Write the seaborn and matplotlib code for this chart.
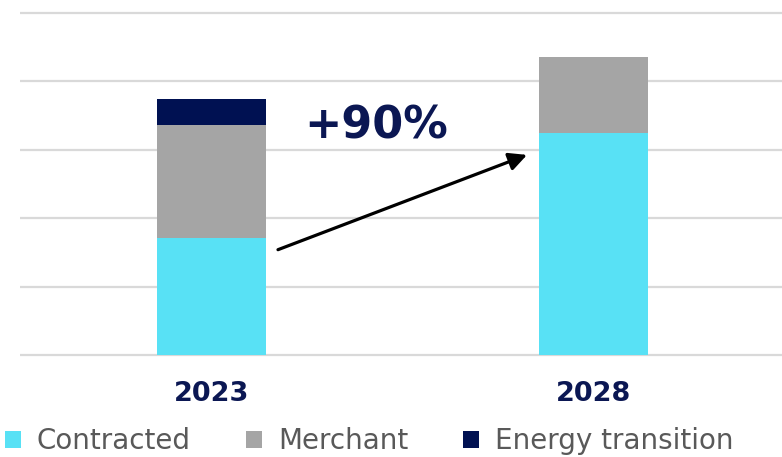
import matplotlib
matplotlib.use("Agg")
import matplotlib.pyplot as plt
from matplotlib.patches import Patch
import numpy as np
import pandas as pd
import seaborn as sns

# Capacity by category (stacked), per year
years = ["2023", "2028"]
contracted = [1.71, 3.25]
merchant = [1.65, 1.11]
energy_transition = [0.38, 0.0]
series_names = ["Contracted", "Merchant", "Energy transition"]
series_colors = ["#58E1F5", "#A5A5A5", "#001152"]

navy = "#0B1753"
grid_gray = "#D9D9D9"
legend_gray = "#595959"

sns.set_theme(style="white")
plt.rcParams["font.family"] = ["DejaVu Sans"]

df = pd.DataFrame({
    "year": years,
    "contracted": contracted,
    "merchant": merchant,
    "energy": energy_transition,
})
df["lvl1"] = df["contracted"]
df["lvl2"] = df["contracted"] + df["merchant"]
df["lvl3"] = df["lvl2"] + df["energy"]

fig = plt.figure(figsize=(7.82, 4.57), dpi=100)
fig.patch.set_facecolor("white")
ax = fig.add_axes([0.0256, 0.2158, 0.9744, 0.7663])

# Stack by overdrawing cumulative totals, top layer first
bw = 0.285
for col, color in zip(["lvl3", "lvl2", "lvl1"], series_colors[::-1]):
    sns.barplot(data=df, x="year", y=col, color=color, width=bw,
                saturation=1, ax=ax, edgecolor="none", linewidth=0)

ax.set_xlim(-0.5013, 1.4935)
ax.set_ylim(-0.05, 5.07)
ax.set_yticks(np.arange(0, 6, 1))
ax.set_yticklabels([])
ax.yaxis.grid(True, color=grid_gray, linewidth=1.6)
ax.set_axisbelow(True)
for s in ax.spines.values():
    s.set_visible(False)
ax.set_xlabel("")
ax.set_ylabel("")
ax.tick_params(axis="x", length=0, pad=16)
ax.tick_params(axis="y", length=0)
for lbl in ax.get_xticklabels():
    lbl.set_fontsize(19.5)
    lbl.set_fontweight("bold")
    lbl.set_color(navy)

# Growth arrow between the contracted segments
ax.annotate("", xy=(1 - 0.174, contracted[1] * 0.9),
            xytext=(0.174, contracted[0] * 0.9),
            arrowprops=dict(arrowstyle="-|>", color="black", lw=2.3,
                            mutation_scale=27, shrinkA=0, shrinkB=0))
growth = round((contracted[1] / contracted[0] - 1) * 100)
ax.text(0.43, 3.35, f"+{growth}%", ha="center", va="center",
        fontsize=32, fontweight="bold", color=navy)

handles = [Patch(facecolor=c, edgecolor="none") for c in series_colors]
leg = fig.legend(handles, series_names, loc="center left",
                 bbox_to_anchor=(5 / 782, 1 - 441 / 457), ncol=3,
                 frameon=False, fontsize=20, handlelength=0.575,
                 handleheight=0.575, handletextpad=0.575, columnspacing=1.98,
                 borderpad=0, borderaxespad=0)
for t in leg.get_texts():
    t.set_color(legend_gray)

fig.savefig("out.png", dpi=100, facecolor="white")
